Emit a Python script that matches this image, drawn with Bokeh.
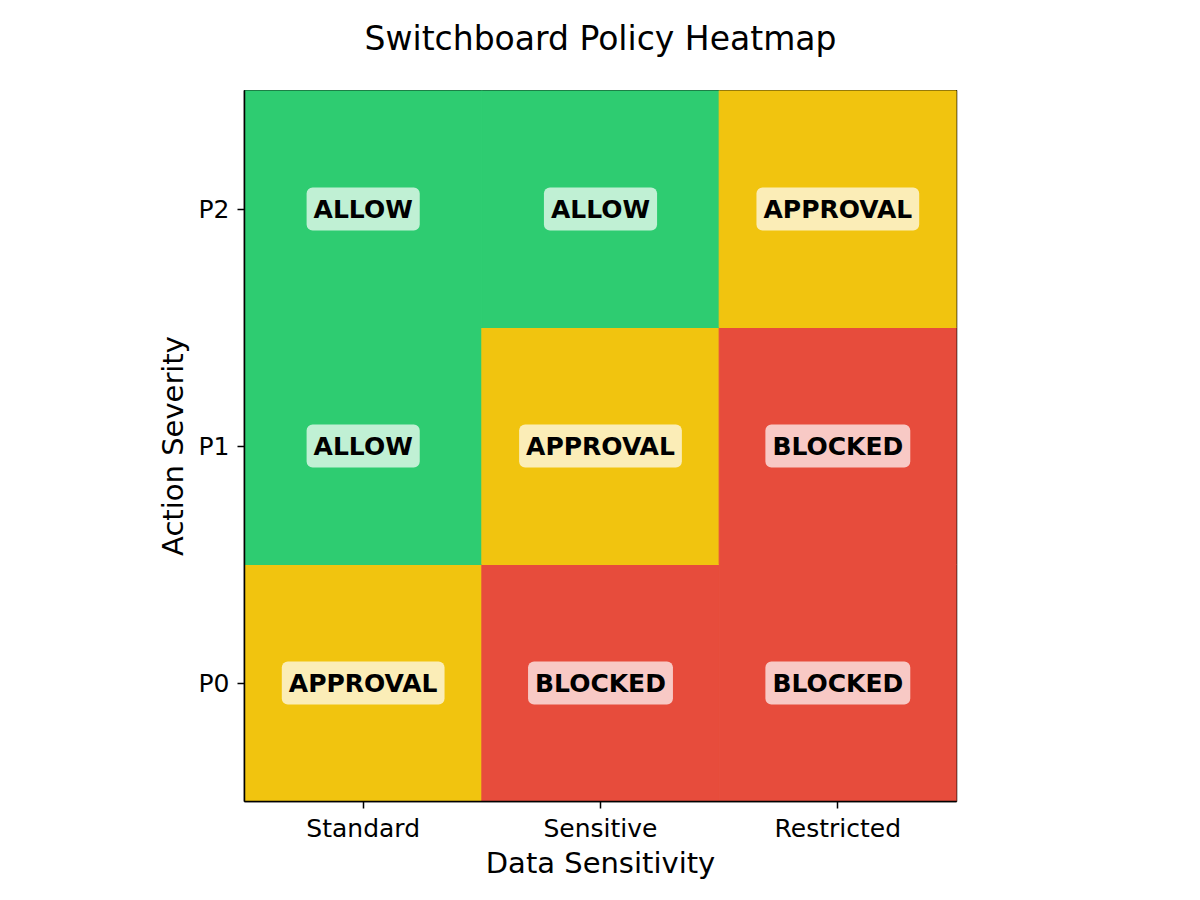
from bokeh.plotting import figure
from bokeh.models import ColumnDataSource, Range1d
from bokeh.layouts import column
from bokeh.core.properties import value
from bokeh.embed import file_html
from bokeh.resources import INLINE

title_text = "Switchboard Policy Heatmap"
data_sensitivity = ["Standard", "Sensitive", "Restricted"]
action_severity = ["P0", "P1", "P2"]
decisions_P0 = ["APPROVAL", "BLOCKED", "BLOCKED"]
decisions_P1 = ["ALLOW", "APPROVAL", "BLOCKED"]
decisions_P2 = ["ALLOW", "ALLOW", "APPROVAL"]
decision_colors = {"ALLOW": "#2ecc71", "APPROVAL": "#f1c40f", "BLOCKED": "#e74c3c"}

xs, ys, labels, colors = [], [], [], []
for sev, row in zip(action_severity, [decisions_P0, decisions_P1, decisions_P2]):
    for ds, d in zip(data_sensitivity, row):
        xs.append(ds)
        ys.append(sev)
        labels.append(d)
        colors.append(decision_colors[d])
src = ColumnDataSource(dict(x=xs, y=ys, label=labels, color=colors))

FONT = "DejaVu Sans"
W = 1200
TITLE_H = 90
MAIN_H = 810

# title strip
t = figure(width=W, height=TITLE_H, x_range=Range1d(0, W), y_range=Range1d(0, TITLE_H),
           output_backend="svg", toolbar_location=None,
           min_border=0, min_border_left=0, min_border_right=0,
           min_border_top=0, min_border_bottom=0)
t.axis.visible = False
t.grid.visible = False
t.outline_line_color = None
t.background_fill_color = "white"
t.border_fill_color = "white"
t.text(x=[W / 2], y=[TITLE_H - 38], text=[title_text], text_font=value(FONT),
       text_font_size="33px", text_color="black", text_align="center",
       text_baseline="middle")

p = figure(width=W, height=MAIN_H, x_range=data_sensitivity, y_range=action_severity,
           output_backend="svg", toolbar_location=None,
           min_border_left=244, min_border_right=244, min_border_top=0,
           min_border_bottom=99)
p.background_fill_color = "white"
p.border_fill_color = "white"
p.outline_line_color = "black"
p.outline_line_width = 1.5
p.x_range.range_padding = 0
p.y_range.range_padding = 0

p.rect(x="x", y="y", width=1, height=1, source=src, fill_color="color", line_color="color",
       line_width=1)
p.text(x="x", y="y", text="label", source=src, text_font=value(FONT), text_font_size="25px",
       text_font_style="bold", text_color="black", text_align="center", text_baseline="middle",
       background_fill_color="white", background_fill_alpha=0.7, padding=7, border_radius=6)

p.grid.visible = False
for ax in (p.xaxis[0], p.yaxis[0]):
    ax.axis_line_color = "black"
    ax.axis_line_width = 1.5
    ax.major_tick_line_color = "black"
    ax.major_tick_line_width = 1.5
    ax.major_tick_out = 7
    ax.major_tick_in = 0
    ax.minor_tick_line_color = None
    ax.major_label_text_font = FONT
    ax.major_label_text_font_size = "25px"
    ax.major_label_text_color = "black"
    ax.axis_label_text_font = FONT
    ax.axis_label_text_font_size = "29px"
    ax.axis_label_text_font_style = "normal"
    ax.axis_label_text_color = "black"
p.xaxis.axis_label = "Data Sensitivity"
p.yaxis.axis_label = "Action Severity"
p.xaxis.major_label_standoff = 5
p.yaxis.major_label_standoff = 8
p.xaxis.axis_label_standoff = 0
p.yaxis.axis_label_standoff = 6
p.yaxis.major_label_orientation = "horizontal"

layout = column(t, p, spacing=0)
open("out.html", "w").write(file_html(layout, INLINE))
